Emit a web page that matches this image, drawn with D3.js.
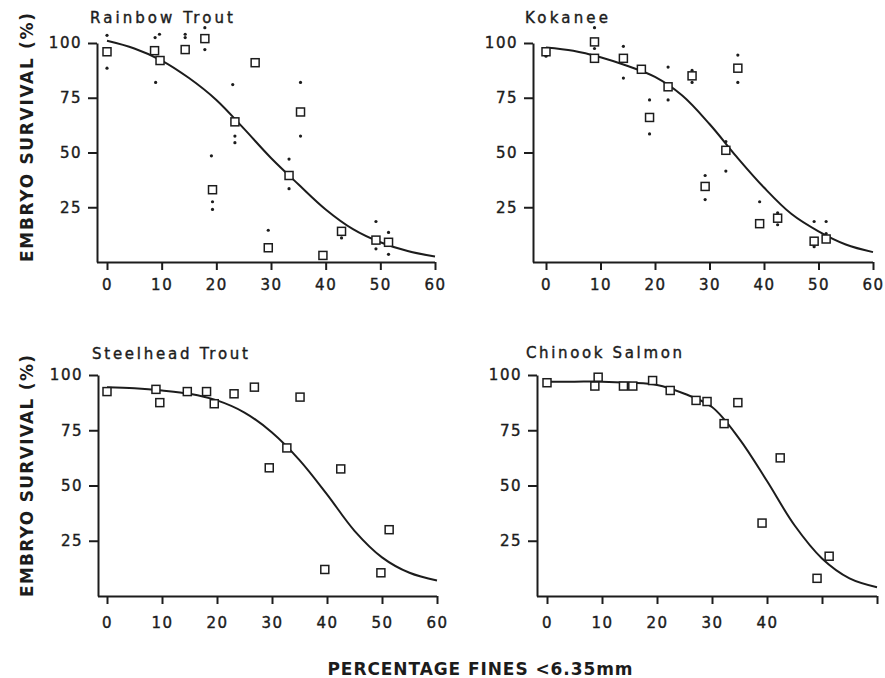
<!DOCTYPE html>
<html lang="en">
<head>
<meta charset="UTF-8">
<title>Embryo survival vs percentage fines</title>
<style>
  body { margin: 0; background: #fff; }
  svg { display: block; }
  text { fill: #1c1c1c; font-family: "DejaVu Sans", sans-serif; }
  .tick text { font-size: 15px; letter-spacing: 1.5px; stroke: #1c1c1c; stroke-width: 0.4px; }
  .title { font-size: 15px; stroke: #1c1c1c; stroke-width: 0.4px; }
  .axis-label { font-size: 17px; font-weight: bold; }
  .domain, .tick line { stroke: #1c1c1c; stroke-width: 2px; }
  .fit { fill: none; stroke: #1c1c1c; stroke-width: 2px; }
  .mean { fill: #fff; stroke: #1c1c1c; stroke-width: 1.5px; }
  .rep { fill: #1c1c1c; }
</style>
</head>
<body>
<svg id="chart" width="885" height="678"></svg>
<script src="https://cdn.jsdelivr.net/npm/d3@7"></script>
<script>
// values: [percent fines, survival %]
const titles = ["Rainbow Trout", "Kokanee", "Steelhead Trout", "Chinook Salmon"];
const xTicks = [0, 10, 20, 30, 40, 50, 60];
const yTicks = [25, 50, 75, 100];
const chinookXLabels = [0, 10, 20, 30, 40];
const yLabel = "EMBRYO SURVIVAL (%)";
const xLabel = "PERCENTAGE FINES <6.35mm";

const rainbowMeans = [[0, 96], [8.7, 96.5], [9.7, 92], [14.3, 97], [17.9, 102], [19.3, 33], [23.4, 64],
  [27.1, 91], [29.5, 6.5], [33.3, 39.5], [35.4, 68.5], [39.5, 3], [42.9, 14], [49.2, 10], [51.5, 9]];
const rainbowReps = [[0, 103.5], [0, 88.5], [8.8, 102.5], [9.6, 104], [8.9, 82], [14.3, 104], [14.3, 102.5],
  [17.9, 107], [17.9, 97], [23, 81], [23.4, 57.5], [23.4, 54.5], [19.1, 48.5], [19.3, 27.5], [19.3, 24],
  [29.5, 14.5], [33.3, 47], [33.3, 33.5], [35.4, 82], [35.4, 57.5], [42.9, 11], [49.2, 18.5], [49.2, 6],
  [51.5, 13.5], [51.5, 3.5]];
const rainbowCurve = [[0, 101], [5, 97.5], [10, 92], [15, 84], [20, 74], [25, 61], [30, 47.5], [35, 35.5],
  [40, 24], [45, 15], [50, 9], [55, 5], [60, 2.5]];

const kokaneeMeans = [[0, 96], [8.9, 100.5], [8.9, 93], [14.2, 93], [17.5, 88], [19, 66], [22.4, 80],
  [26.8, 85], [29.2, 34.5], [33, 51], [35.2, 88.5], [39.2, 17.5], [42.5, 20], [49.2, 9.5], [51.4, 10.5]];
const kokaneeReps = [[0, 94], [8.9, 107], [8.9, 97.5], [14.2, 98.5], [14.2, 84], [19, 74], [19, 58.5],
  [22.4, 89], [22.4, 74], [26.8, 87.5], [26.8, 82], [29.2, 39.5], [29.2, 28.5], [33, 55], [33, 41.5],
  [35.2, 94.5], [35.2, 82], [39.2, 27.5], [42.5, 22.5], [42.5, 17], [49.2, 18.5], [49.2, 7],
  [51.4, 18.5], [51.4, 13]];
const kokaneeCurve = [[0, 98], [5, 96.5], [10, 93.5], [15, 89.5], [20, 84.5], [25, 76], [30, 63], [35, 48],
  [40, 34], [45, 22], [50, 14], [55, 8], [60, 4.5]];

const steelheadMeans = [[0, 92.5], [8.9, 93.5], [9.6, 87.5], [14.6, 92.5], [18.1, 92.5], [19.5, 87],
  [23.1, 91.5], [26.8, 94.5], [29.5, 58], [32.7, 67], [35.1, 90], [39.6, 12], [42.5, 57.5], [49.8, 10.5],
  [51.3, 30]];
const steelheadCurve = [[0, 94.5], [5, 94], [10, 93], [15, 91.5], [20, 88.5], [25, 83], [30, 74], [35, 61.5],
  [40, 46], [45, 29.5], [50, 17.5], [55, 10.5], [60, 7]];

const chinookMeans = [[0, 96.5], [9.3, 99], [8.7, 95], [13.9, 95], [15.6, 95], [19.2, 97.5], [22.4, 93],
  [27.1, 88.5], [29.1, 88], [32.2, 78], [34.7, 87.5], [39.1, 33], [42.4, 62.5], [49.1, 8], [51.3, 18]];
const chinookCurve = [[0, 97], [5, 97], [10, 97], [15, 96.5], [20, 95.5], [25, 91.5], [30, 85.5], [35, 71],
  [40, 52], [45, 32], [50, 17], [55, 8], [60, 4]];

const panels = [
  { title: titles[0], means: rainbowMeans, reps: rainbowReps, curve: rainbowCurve, xLabels: xTicks },
  { title: titles[1], means: kokaneeMeans, reps: kokaneeReps, curve: kokaneeCurve, xLabels: xTicks },
  { title: titles[2], means: steelheadMeans, reps: [], curve: steelheadCurve, xLabels: xTicks },
  { title: titles[3], means: chinookMeans, reps: [], curve: chinookCurve, xLabels: chinookXLabels }
];

// pixel layout of each panel
const layout = [
  { axisX: 97, x0: 107, x60: 435, y100: 43, y0: 262, pad: 9, tx: 90, ty: 23, tlen: 143 },
  { axisX: 533, x0: 546, x60: 873, y100: 43, y0: 262, pad: 9, tx: 525, ty: 23, tlen: 83 },
  { axisX: 98, x0: 107, x60: 437, y100: 375, y0: 596, pad: 13, tx: 92, ty: 359, tlen: 156 },
  { axisX: 537, x0: 547, x60: 877, y100: 375, y0: 596, pad: 13, tx: 526, ty: 358, tlen: 156 }
];

const svg = d3.select("#chart");
svg.append("rect").attr("width", 885).attr("height", 678).attr("fill", "#fff");

panels.forEach((p, i) => {
  const L = layout[i];
  const x = d3.scaleLinear().domain([0, 60]).range([L.x0, L.x60]);
  const y = d3.scaleLinear().domain([0, 100]).range([L.y0, L.y100]);
  const g = svg.append("g");

  const xAxis = g.append("g")
    .attr("transform", `translate(0,${L.y0})`)
    .call(d3.axisBottom(x).tickValues(xTicks).tickSize(8).tickSizeOuter(0).tickPadding(L.pad)
      .tickFormat(d => p.xLabels.includes(d) ? d : ""));
  xAxis.select(".domain").attr("d", `M${L.axisX},0.5H${L.x60}`);

  g.append("g")
    .attr("transform", `translate(${L.axisX},0)`)
    .call(d3.axisLeft(y).tickValues(yTicks).tickSize(9).tickSizeOuter(0).tickPadding(6));

  g.append("text").attr("class", "title")
    .attr("x", L.tx).attr("y", L.ty)
    .attr("textLength", L.tlen).attr("lengthAdjust", "spacing")
    .text(p.title);

  const line = d3.line().x(d => x(d[0])).y(d => y(d[1])).curve(d3.curveCatmullRom.alpha(0.5));
  g.append("path").attr("class", "fit").attr("d", line(p.curve));

  g.selectAll(".rep").data(p.reps).enter().append("circle")
    .attr("class", "rep")
    .attr("cx", d => x(d[0])).attr("cy", d => y(d[1])).attr("r", 1.6);

  g.selectAll(".mean").data(p.means).enter().append("rect")
    .attr("class", "mean")
    .attr("x", d => x(d[0]) - 4).attr("y", d => y(d[1]) - 4)
    .attr("width", 8).attr("height", 8);
});

// shared axis titles
[{ cy: 137.5, len: 249 }, { cy: 476, len: 242 }].forEach(d => {
  svg.append("text").attr("class", "axis-label")
    .attr("transform", `translate(33,${d.cy}) rotate(-90)`)
    .attr("text-anchor", "middle")
    .attr("textLength", d.len).attr("lengthAdjust", "spacing")
    .text(yLabel);
});

svg.append("text").attr("class", "axis-label")
  .attr("x", 480).attr("y", 675)
  .attr("text-anchor", "middle")
  .attr("textLength", 305).attr("lengthAdjust", "spacing")
  .text(xLabel);
</script>
</body>
</html>
